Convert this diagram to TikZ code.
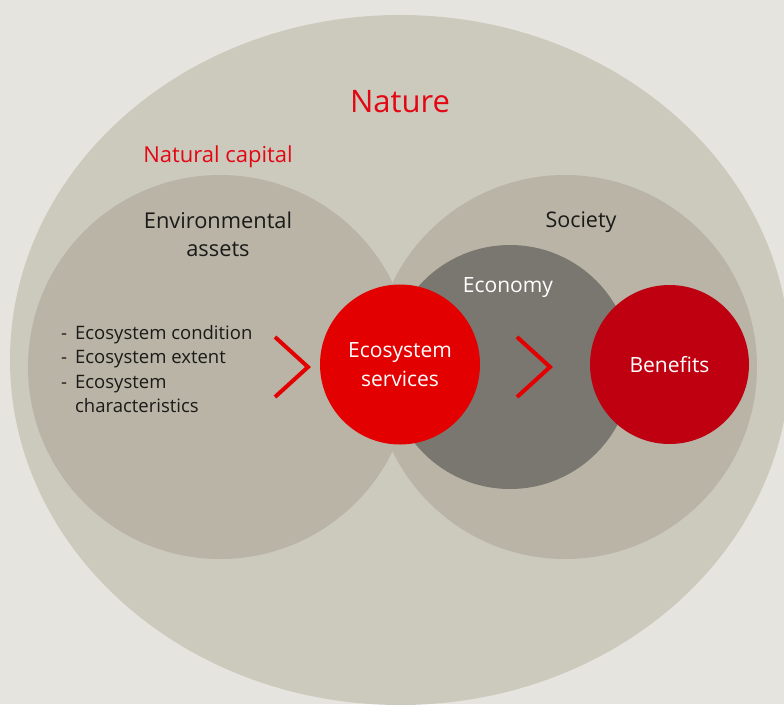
\documentclass[tikz,border=0pt]{standalone}
\usepackage{fontspec}
\setmainfont{Open Sans}
\usetikzlibrary{shapes.geometric}
\definecolor{bg}{HTML}{E5E4DF}
\definecolor{nat}{HTML}{CCCABD}
\definecolor{soc}{HTML}{B9B4A5}
\definecolor{eco}{HTML}{7A7770}
\definecolor{esred}{HTML}{E30000}
\definecolor{benred}{HTML}{BE0010}
\definecolor{txtred}{HTML}{E30613}
\definecolor{txtdark}{HTML}{1A1A1A}
\tikzset{
  disc/.style={circle,inner sep=0pt,minimum size=#1},
  chevron/.style={draw=esred,line width=4pt,line cap=butt,line join=miter},
  redlabel/.style={text=txtred,inner sep=0pt,anchor=base},
  darklabel/.style={text=txtdark,inner sep=0pt,anchor=base,align=center},
  whitelabel/.style={text=white,inner sep=0pt,anchor=base,align=center},
}
\begin{document}
\begin{tikzpicture}[x=1pt,y=-1pt]
\useasboundingbox (0,0) rectangle (784,704);
\clip (0,0) rectangle (784,704);
\fill[bg] (0,0) rectangle (784,704);
\node[ellipse,fill=nat,inner sep=0pt,minimum width=780pt,minimum height=690pt] (nature) at (400,360) {};
\node[disc=384pt,fill=soc] (env) at (220,367) {};
\node[disc=384pt,fill=soc] (society) at (565,367) {};
\node[disc=244pt,fill=eco] (economy) at (510,367) {};
\node[disc=160pt,fill=esred] (es) at (400,364.5) {};
\node[disc=159pt,fill=benred] (ben) at (669.5,364.5) {};
% labels
\node[redlabel,font=\fontsize{31}{36}\selectfont] (naturelbl) at (400,112) {Nature};
\node[redlabel,font=\fontsize{22}{26}\selectfont] (natcap) at (218,162) {Natural capital};
\node[darklabel,font=\fontsize{21.8}{28.5}\selectfont] (envlbl) at (218,256.5) {Environmental\\assets};
\node[darklabel,font=\fontsize{21.5}{26}\selectfont] (soclbl) at (581,227) {Society};
\node[whitelabel,font=\fontsize{21}{26}\selectfont] (ecolbl) at (508,292) {Economy};
\node[whitelabel,font=\fontsize{21}{29}\selectfont] (eslbl) at (400,386) {Ecosystem\\services};
\node[whitelabel,font=\fontsize{21}{26}\selectfont] (benlbl) at (669.5,372) {Benefits};
\node[text=txtdark,inner sep=0pt,anchor=north west,font=\fontsize{18.5}{24.5}\selectfont] (list) at (61,322)
 {\begin{tabular}{@{}l@{\hspace{8pt}}l@{}}
  - & Ecosystem condition\\
  - & Ecosystem extent\\
  - & Ecosystem\\
    & characteristics
  \end{tabular}};
% chevrons
\coordinate (c1a) at (275,337); \coordinate (c1b) at (308,367); \coordinate (c1c) at (275,397);
\coordinate (c2a) at (517,337); \coordinate (c2b) at (550,367); \coordinate (c2c) at (517,397);
\draw[chevron] (c1a) -- (c1b) -- (c1c);
\draw[chevron] (c2a) -- (c2b) -- (c2c);
\end{tikzpicture}
\end{document}
